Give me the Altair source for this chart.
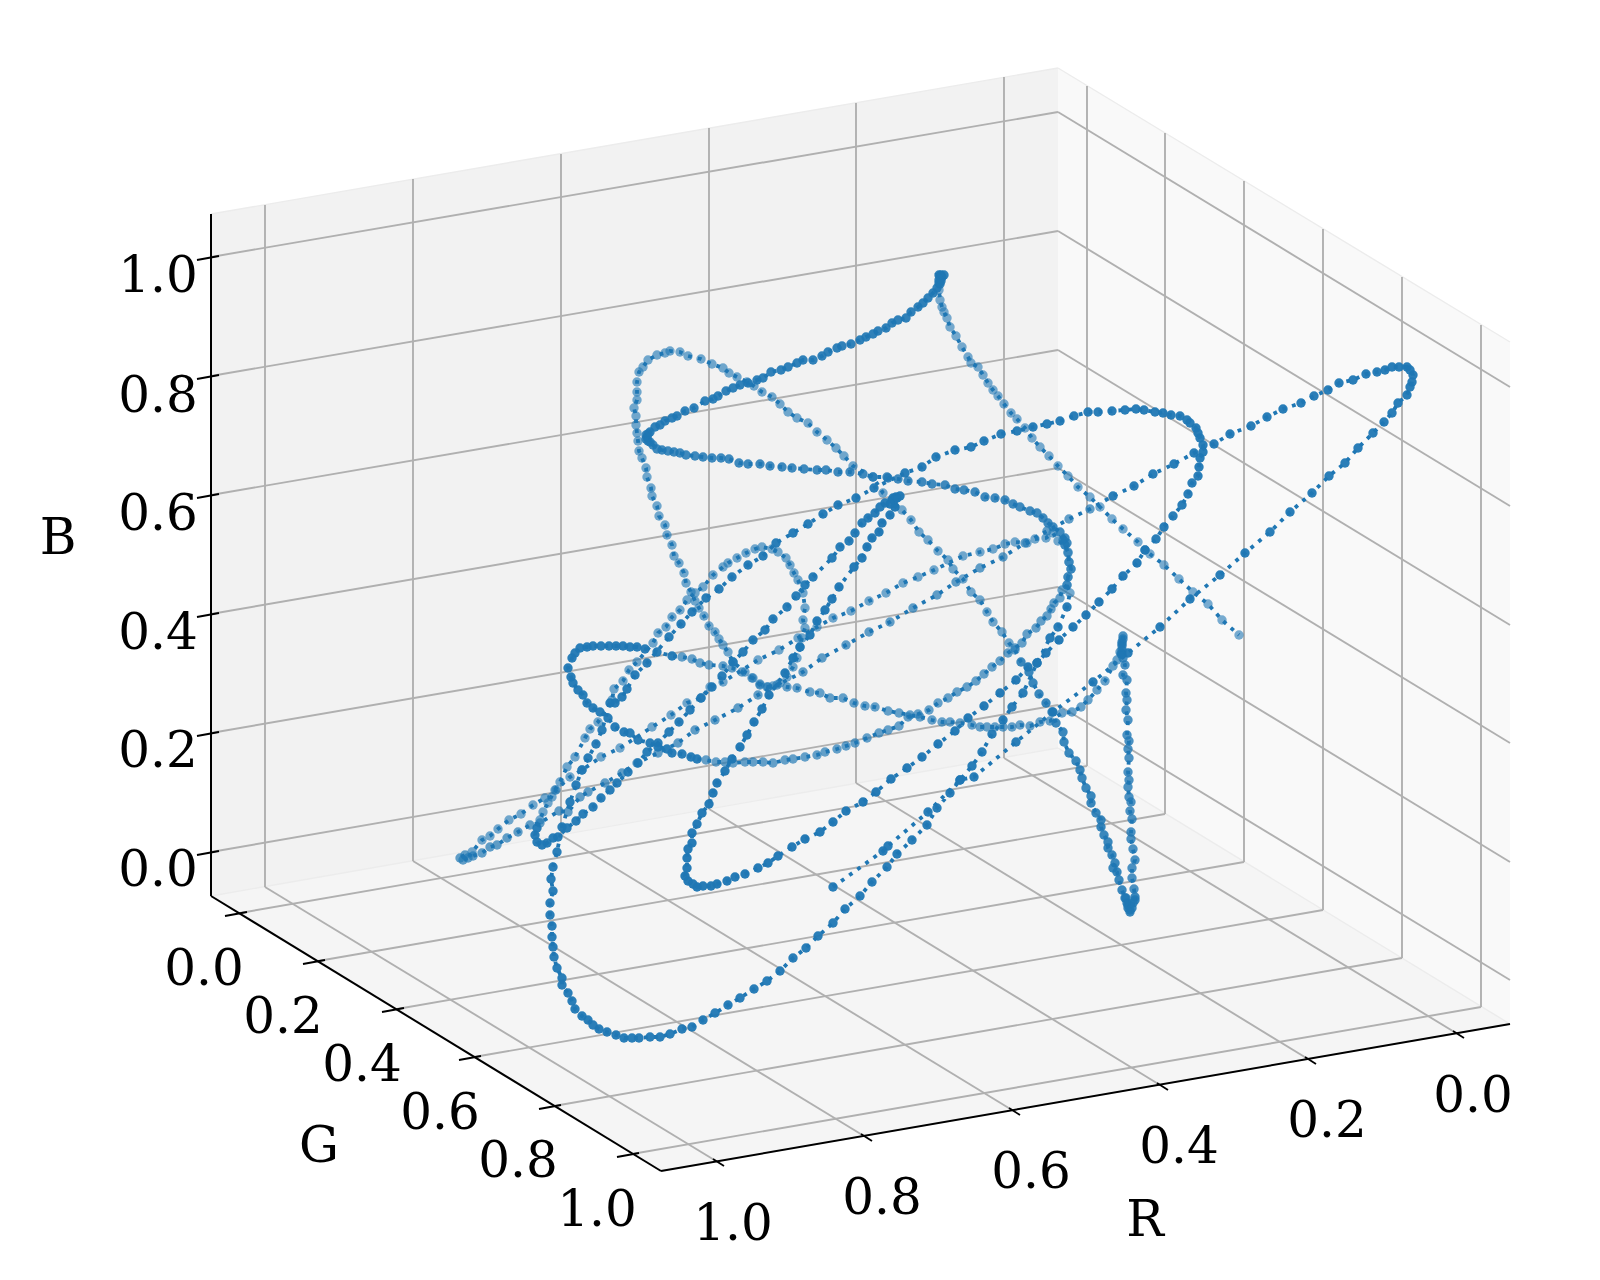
import altair as alt
import pandas as pd

BLUE = "#1f77b4"
SERIF = "DejaVu Serif"

# Trajectory, in picture pixels, in path order.
rise_to_far_loop = [(833,887),(883,851),(888,846),(928,812),(960,780),(974,777),(1016,742),(1053,712),(1093,682),(1128,653),(1160,627),(1190,599),(1220,575),(1245,553),(1270,532),(1290,512),(1312,493),(1329,476),(1345,463),(1358,448),(1373,433),(1384,422),(1392,413),(1398,403),(1407,395),(1410,387),(1412,382),(1413,375),(1410,370),(1407,367),(1399,367),(1392,367),(1385,370),(1377,372),(1366,374),(1353,380),(1339,383),(1328,390),(1314,396),(1301,403),(1283,409),(1267,417),(1251,426),(1230,434),(1214,444),(1194,453),(1174,464),(1153,474),(1134,486),(1113,496)]
fall_to_left_tip = [(1090,509),(1069,519),(1047,531),(1025,543),(1003,557),(980,568),(956,582),(937,595),(913,608),(890,622),(869,632),(846,645),(822,658),(803,672),(758,695),(738,708),(715,720),(695,730),(678,743),(658,753),(637,763),(622,773),(605,783),(588,792),(580,797),(568,812),(559,811),(540,823),(530,825),(518,832),(507,838),(497,845),(490,847),(482,853),(473,856),(463,860),(460,858),(465,855),(468,858)]
rise_to_right_bend = [(472,852),(482,840),(490,836),(498,829),(509,820),(521,814),(533,805),(545,798),(552,797),(556,790),(570,777),(582,770),(601,757),(620,748),(652,727),(671,715),(687,703),(701,698),(710,687),(723,682),(758,660),(779,650),(798,638),(817,627),(833,618),(851,611),(869,601),(886,593),(903,583),(918,577),(934,570),(963,556),(980,552),(993,549),(1005,544),(1015,542),(1027,543),(1035,539),(1046,538),(1053,533),(1058,541),(1065,545),(1068,552),(1069,562),(1071,569),(1068,577),(1067,585),(1070,593)]
big_arc_down = [(1067,607),(1058,627),(1050,638),(1037,663),(1023,693),(1012,707),(1003,720),(992,734),(982,752),(972,766),(960,780),(950,793),(937,808),(927,825),(912,840),(897,854),(887,867),(872,882),(860,896),(845,909),(833,923),(818,936),(806,948),(793,958),(780,971),(767,981),(754,989),(740,998),(728,1005),(715,1013),(703,1020),(692,1027),(682,1029),(670,1034),(660,1037),(650,1037),(639,1038),(632,1038),(624,1038),(616,1035),(607,1032),(599,1029),(593,1025),(588,1020),(582,1016),(575,1009),(572,1001),(568,993),(562,985),(562,978),(557,968),(554,957),(553,947),(552,937),(552,926),(550,915),(550,903),(553,891),(551,879),(553,867),(557,852)]
rise_over_top_bend = [(562,827),(570,802),(576,785),(582,770),(588,758),(596,744),(602,730),(610,703),(615,703),(622,697),(627,689),(635,675),(647,663),(669,637),(681,624),(692,612),(706,598),(719,589),(732,577),(748,565),(763,556),(776,543),(793,533),(808,524),(823,514),(838,505),(856,498),(874,488),(905,473),(922,467),(936,457),(955,450),(971,447),(984,441),(1001,434),(1017,431),(1033,427),(1047,424),(1060,421),(1074,416),(1088,412),(1098,412),(1112,411),(1125,410),(1136,409),(1144,410),(1155,412),(1163,413),(1171,415),(1180,416),(1187,420),(1190,423),(1196,428),(1198,433),(1200,438),(1203,445),(1203,452),(1200,458),(1199,467),(1198,476),(1192,483),(1188,494),(1182,505),(1173,516),(1164,527),(1156,539)]
fall_to_lower_loop = [(1145,550),(1137,563),(1123,576),(1112,589),(1099,602),(1086,615),(1073,627),(1059,640),(1046,653),(1037,663),(1028,667),(1016,680),(1000,693),(984,706),(968,718),(955,731),(938,744),(922,757),(907,768),(891,779),(876,792),(863,802),(846,811),(833,822),(820,832),(805,839),(792,847),(778,856),(768,863),(758,868),(745,874),(735,877),(727,881),(717,884),(711,886),(703,886),(697,887),(693,884),(688,881),(685,876),(687,868),(687,858),(688,849),(692,843),(692,833),(697,824),(702,813),(709,804),(713,793),(717,783),(725,771),(732,759),(740,747),(747,735),(754,722),(762,709),(769,695),(785,673),(793,658),(800,647),(810,635),(817,621),(825,610),(832,599),(839,587),(854,567),(862,558),(867,547),(872,538),(879,532),(882,523),(890,515),(895,507),(897,498),(893,498),(896,497),(900,496),(894,500),(890,504)]
cusp_to_second_tip = [(885,503),(880,507),(875,513),(868,518),(862,523),(855,533),(849,541),(840,547),(832,558),(813,577),(805,585),(796,596),(787,607),(773,619),(765,630),(753,640),(743,652),(733,662),(722,676),(712,687),(701,698),(690,710),(679,722),(669,732),(658,743),(647,752),(638,763),(628,772),(617,783),(610,790),(601,798),(593,807),(583,814),(576,821),(567,828),(558,837),(553,838),(547,843),(542,845),(537,842),(535,835),(537,828)]
small_loop_and_far_top = [(540,820),(543,812),(548,803),(555,790),(560,782),(567,767),(575,757),(585,738),(590,729),(598,722),(612,700),(614,689),(623,681),(629,670),(637,662),(653,643),(658,633),(666,627),(672,617),(680,610),(687,600),(695,593),(703,587),(713,575),(723,567),(728,563),(737,558),(746,553),(755,549),(762,547),(772,549),(778,552),(786,558),(790,565),(794,573),(798,580),(803,593),(805,608),(803,620),(805,628),(802,638),(800,647),(797,658),(793,667),(787,677),(780,683),(773,686),(767,687),(760,684),(753,678),(745,672),(733,662),(728,652),(723,645),(719,639),(715,632),(709,626),(704,616),(699,608),(695,601),(691,592),(686,583),(684,573),(679,563),(674,556),(672,545),(667,535),(665,525),(659,516),(657,506),(652,496),(651,488),(647,477),(646,468),(642,458),(639,451),(638,441),(637,433),(636,425),(636,416),(634,408),(637,400),(637,392),(637,382),(639,372),(643,367),(648,360),(657,355),(665,353),(670,351),(680,352),(688,356),(701,359),(712,364),(723,368),(729,373),(737,377),(747,382),(754,386),(762,392),(772,397),(780,404),(788,412),(797,418),(808,423),(817,432),(827,440),(836,448),(844,456),(853,466),(873,477),(883,493),(902,510),(911,520),(919,532),(928,540),(938,551),(948,560),(953,569),(963,579),(971,592),(980,600),(987,612),(993,622),(1002,632),(1009,643),(1015,650),(1021,662),(1029,672),(1033,683),(1039,694),(1046,703),(1052,712),(1056,723),(1063,732),(1064,742),(1069,753),(1076,761),(1080,770),(1082,778),(1086,788),(1091,796),(1091,803),(1096,813),(1101,820),(1101,827),(1104,835),(1108,842),(1108,848),(1112,855),(1115,863),(1113,868),(1117,872),(1119,880),(1122,890),(1125,898),(1127,903),(1126,898),(1128,905),(1128,908),(1130,910),(1130,912),(1132,908),(1133,903),(1135,897),(1135,900)]
rise_to_near_cusp = [(1134,889),(1132,878),(1132,868),(1135,860),(1133,849),(1131,839),(1131,832),(1132,819),(1130,811),(1131,802),(1129,797),(1128,787),(1129,780),(1128,772),(1129,758),(1128,749),(1129,741),(1127,735),(1128,720),(1126,710),(1127,700),(1126,693),(1127,680),(1123,675),(1125,665),(1123,658),(1122,654),(1122,650),(1121,654),(1122,646),(1122,642),(1122,644),(1123,639),(1123,636)]
middle_sweep = [(1120,652),(1117,660),(1113,666),(1105,681),(1097,690),(1088,700),(1081,707),(1072,712),(1062,713),(1050,721),(1040,722),(1030,726),(1020,725),(1012,727),(1003,727),(995,727),(987,727),(980,727),(972,725),(960,723),(950,722),(942,722),(932,720),(920,717),(910,715),(899,713),(888,711),(875,707),(865,706),(854,703),(843,698),(830,698),(820,693),(810,692),(797,688),(787,687),(777,685),(768,687),(760,685),(752,678),(742,672),(732,668),(723,666),(709,665),(700,663),(692,659),(682,657),(672,656),(657,652),(645,649),(637,647),(630,647),(623,646),(616,646),(609,646),(601,646),(593,646),(587,647),(580,648),(575,653),(572,658),(568,668),(571,677),(573,683),(578,690),(583,695),(587,703),(593,708),(600,712),(608,718),(615,727),(624,732),(630,733),(638,740),(650,743),(658,747),(667,749),(672,753),(682,754),(691,757),(697,759),(706,760),(716,762),(725,762),(733,763),(745,762),(753,762),(763,762),(773,763),(785,760),(793,759),(805,757),(817,755),(825,752),(837,749),(846,746),(855,743),(867,738),(879,733),(888,730),(899,726),(908,717),(918,714),(929,710),(938,703),(948,698),(957,692),(967,687),(976,681),(984,674),(992,667),(1000,661),(1008,653),(1015,648),(1022,643),(1027,634),(1036,628),(1041,621),(1047,616),(1051,609),(1054,603),(1060,598),(1062,590),(1067,585),(1068,577),(1071,569),(1069,562),(1068,553),(1065,545),(1063,540)]
upper_sweep_to_tip = [(1067,543),(1065,538),(1060,532),(1053,527),(1048,523),(1043,518),(1037,513),(1030,511),(1020,507),(1013,504),(1005,500),(995,498),(985,497),(975,492),(964,490),(955,489),(945,485),(932,484),(922,482),(908,481),(898,479),(888,478),(887,477),(873,477),(863,474),(850,472),(838,472),(826,470),(817,470),(804,469),(792,468),(782,467),(770,466),(760,464),(748,464),(739,463),(729,459),(721,458),(712,458),(703,457),(695,456),(686,455),(680,453),(674,452),(668,451),(662,450),(657,449),(653,445),(650,442),(648,441),(646,439),(647,437),(646,435),(648,434)]
rise_to_top_cusp = [(650,432),(655,427),(660,425),(665,421),(672,418),(677,416),(685,411),(694,408),(705,401),(713,399),(718,396),(726,391),(733,388),(740,385),(748,383),(757,380),(763,378),(771,372),(781,370),(788,367),(797,363),(803,360),(813,360),(822,356),(828,352),(837,348),(842,346),(851,344),(860,340),(866,337),(873,334),(878,331),(886,328),(892,323),(898,320),(906,318),(911,312),(918,307),(923,303),(928,298),(933,293),(937,288),(939,283),(940,284),(941,281),(941,278),(942,277),(944,275),(941,275),(939,275),(940,276),(939,280)]
final_descent = [(939,290),(940,300),(942,307),(944,312),(947,318),(950,327),(956,336),(962,347),(968,357),(971,363),(978,367),(983,375),(988,383),(993,390),(998,396),(1004,404),(1011,413),(1017,419),(1025,428),(1032,438),(1040,447),(1049,456),(1058,466),(1068,476),(1078,487),(1090,497),(1100,507),(1112,519),(1123,529),(1138,542),(1145,550),(1150,554),(1164,565),(1179,579),(1193,592),(1208,604),(1222,620),(1239,635)]

# Where the fading along the two long stretches changes.
far_top_end = small_loop_and_far_top.index((1021, 662))
loop_start = middle_sweep.index((672, 656))
loop_end = middle_sweep.index((706, 760))

# Nearness to the viewer along each stretch of the path (drives the fading).
stretches = [
    (rise_to_far_loop, 0.95), (fall_to_left_tip, 0.7), (rise_to_right_bend, 0.62),
    (big_arc_down, 0.95), (rise_over_top_bend, 0.95), (fall_to_lower_loop, 0.97),
    (cusp_to_second_tip, 0.95), (small_loop_and_far_top[:far_top_end], 0.62),
    (small_loop_and_far_top[far_top_end:], 0.88), (rise_to_near_cusp, 0.8),
    (middle_sweep[:loop_start], 0.68), (middle_sweep[loop_start:loop_end], 0.95),
    (middle_sweep[loop_end:], 0.68), (upper_sweep_to_tip, 0.85), (rise_to_top_cusp, 0.92),
    (final_descent, 0.6),
]

# Box geometry.
left_pane = {"x": [211, 1058], "top": [214, 68], "bottom": [896, 748]}
right_pane = {"x": [1058, 1510], "top": [68, 342], "bottom": [748, 1024]}
floor_pane = {"x": [211, 661, 1058, 1510], "top": [896, 817, 748, 1024], "bottom": [896, 1171, 1102, 1024]}

wall_x = [265, 413, 561, 709, 856, 1004]
wall_top = [205, 179, 154, 128, 103, 77]
wall_bottom = [887, 861, 835, 809, 783, 758]
side_x = [1087, 1165, 1244, 1323, 1402, 1481]
side_top = [86, 133, 181, 229, 277, 325]
side_bottom = [766, 814, 862, 910, 958, 1007]
level_left = [257, 376, 495, 614, 733, 852]
level_back = [112, 231, 350, 468, 587, 705]
level_right = [387, 506, 625, 743, 862, 980]
g_tick_x = [240, 318, 397, 474, 554, 632]
g_tick_y = [913, 961, 1009, 1057, 1106, 1154]
r_tick_x = [716, 864, 1012, 1160, 1308, 1456]
r_tick_y = [1161, 1136, 1110, 1085, 1059, 1033]

tick_text = ["0.0", "0.2", "0.4", "0.6", "0.8", "1.0"]
b_label_x = [158, 158, 158, 158, 158, 158]
b_label_y = [871, 752, 634, 515, 397, 277]
g_label_x = [204, 283, 362, 440, 518, 597]
g_label_y = [970, 1018, 1066, 1114, 1162, 1211]
r_label_x = [1473, 1327, 1179, 1031, 882, 733]
r_label_y = [1097, 1122, 1148, 1173, 1199, 1225]
axis_names = ["B", "G", "R"]
axis_name_x = [58, 319, 1145]
axis_name_y = [539, 1147, 1221]

X = alt.Scale(domain=[8, 1592], range=[0, 1584], nice=False, zero=False)
Y = alt.Scale(domain=[8, 1272], range=[0, 1264], nice=False, zero=False)
ex = alt.X("x:Q", scale=X, axis=None)
ey = alt.Y("y:Q", scale=Y, axis=None)


def pane(shape, colour):
    df = pd.DataFrame({"x": shape["x"], "y": shape["top"], "y2": shape["bottom"]})
    return alt.Chart(df).mark_area(color=colour, opacity=1, interpolate="linear").encode(
        x=ex, y=ey, y2=alt.Y2("y2:Q"))


def segments(xa, ya, xb, yb, colour, width):
    df = pd.DataFrame({"x": xa, "y": ya, "x2": xb, "y2": yb})
    return alt.Chart(df).mark_rule(color=colour, strokeWidth=width).encode(
        x=ex, y=ey, x2=alt.X2("x2:Q"), y2=alt.Y2("y2:Q"))


def labels(text, xs, ys):
    df = pd.DataFrame({"t": text, "x": xs, "y": ys})
    return alt.Chart(df).mark_text(font=SERIF, fontSize=50, color="black", align="center",
                                   baseline="middle").encode(x=ex, y=ey, text="t:N")


rows = []
for pts, near in stretches:
    rows += [{"x": a, "y": b, "near": near} for a, b in pts]
path = pd.DataFrame(rows)
path["i"] = range(len(path))

n = len(wall_x)
grid = "#b0b0b0"
lw = 1.9
layers = [
    pane(left_pane, "#f2f2f2"),
    pane(right_pane, "#f9f9f9"),
    pane(floor_pane, "#f5f5f5"),
    segments([211, 1058, 211, 1058, 661], [214, 68, 896, 748, 1171],
             [1058, 1510, 1058, 1510, 1510], [68, 342, 748, 1024, 1024], "#ececec", 1.4),
    segments(wall_x, wall_top, wall_x, wall_bottom, grid, lw),
    segments(side_x, side_top, side_x, side_bottom, grid, lw),
    segments([211] * n, level_left, [1058] * n, level_back, grid, lw),
    segments([1058] * n, level_back, [1510] * n, level_right, grid, lw),
    segments(g_tick_x, g_tick_y, side_x, side_bottom, grid, lw),
    segments(wall_x, wall_bottom, r_tick_x, r_tick_y, grid, lw),
    segments([211, 211, 661], [214, 896, 1171], [211, 661, 1510], [896, 1171, 1024], "black", 2),
    segments([197] * n, [y + 3 for y in level_left], [219] * n, [y - 1 for y in level_left], "black", 1.8),
    segments([x - 15 for x in g_tick_x], [y + 3 for y in g_tick_y],
             [x + 7 for x in g_tick_x], [y - 1 for y in g_tick_y], "black", 1.8),
    segments([x - 3 for x in r_tick_x], [y - 2 for y in r_tick_y],
             [x + 8 for x in r_tick_x], [y + 5 for y in r_tick_y], "black", 1.8),
    alt.Chart(path).mark_circle(color=BLUE, size=88, stroke=None).encode(
        x=ex, y=ey, opacity=alt.Opacity("near:Q", scale=None)),
    alt.Chart(path).mark_line(color=BLUE, strokeWidth=3.8, strokeDash=[3.8, 6.2], strokeCap="butt").encode(
        x=ex, y=ey, order=alt.Order("i:Q")),
    labels(tick_text, b_label_x, b_label_y),
    labels(tick_text, g_label_x, g_label_y),
    labels(tick_text, r_label_x, r_label_y),
    labels(axis_names, axis_name_x, axis_name_y),
]

chart = alt.layer(*layers).properties(
    width=1584, height=1264, padding=0, autosize=alt.AutoSizeParams(type="none")
).configure_view(stroke=None)

chart.save("out.html", embed_options={"renderer": "svg", "actions": False})
